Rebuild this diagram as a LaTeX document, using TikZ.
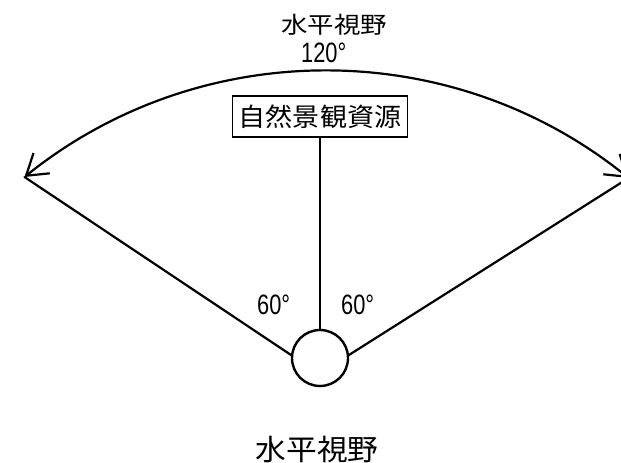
\documentclass[tikz,border=0pt]{standalone}
\usepackage{fontspec}
\setmainfont{Noto Sans CJK JP}
\newfontfamily\cjkw[FakeStretch=1.15]{Noto Sans CJK JP}
\newfontfamily\cjkv[FakeStretch=1.06]{Noto Sans CJK JP}
\newfontfamily\numf[FakeStretch=0.78]{Liberation Sans}
\usetikzlibrary{arrows.meta}
\begin{document}
\begin{tikzpicture}[x=1pt,y=1pt,
  ln/.style={line width=2.2pt, line cap=round},
  lab/.style={inner sep=0pt, anchor=base},
  num/.style={inner sep=0pt, anchor=base west, font=\numf\fontsize{28}{28}\selectfont},
  barb/.tip={Straight Barb[length=20pt,width=26pt]},
]
\useasboundingbox (0,0) rectangle (621,463);
\node[draw, line width=2.4pt, circle, minimum size=56pt, inner sep=0pt] (eye) at (320,105) {};
\node[draw, line width=1.5pt, minimum width=175pt, minimum height=41pt, inner sep=0pt,
      font=\cjkv\fontsize{25.5}{25.5}\selectfont] (res) at (320,346.5) {自然景観資源};
\coordinate (L) at (24.5,286);
\coordinate (R) at (628.6,285);
\draw[ln] (L) -- (eye.174);
\draw[ln] (R) -- (eye.6);
\draw[ln] (res.south) -- (eye.north);
\draw[ln, barb-barb] (L) arc[start angle=128.8, end angle=51, radius=481pt];
\node[lab, font=\cjkw\fontsize{23}{23}\selectfont] (t1) at (334,429.5) {水平視野};
\node[num] (t2) at (301,400) {120°};
\node[num] (a1) at (257,148) {60°};
\node[num] (a2) at (341,148) {60°};
\node[lab, font=\cjkv\fontsize{29}{29}\selectfont] (t3) at (317,2.5) {水平視野};
\end{tikzpicture}
\end{document}
